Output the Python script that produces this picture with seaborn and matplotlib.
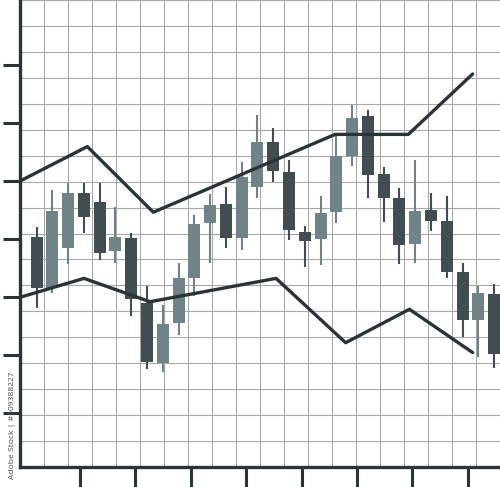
import numpy as np
import pandas as pd
import matplotlib
matplotlib.use('Agg')
from matplotlib import pyplot as plt
from matplotlib.ticker import FixedLocator
import seaborn as sns

# candles, one per session (values in grid units)
opens = [8.88, 6.90, 8.43, 10.57, 10.23, 8.34, 8.84, 6.31, 4.00, 5.56,
         7.30, 9.39, 10.13, 8.82, 10.78, 12.54, 11.38, 9.05, 8.78, 9.84,
         12.00, 13.53, 11.28, 10.36, 8.58, 9.91, 9.48, 7.50, 5.67, 6.67]
closes = [6.89, 9.88, 10.55, 9.65, 8.26, 8.88, 6.46, 4.06, 5.51, 7.27,
          9.37, 10.10, 8.82, 11.17, 12.54, 11.41, 9.14, 8.72, 9.80, 11.99,
          13.46, 11.26, 10.36, 8.56, 9.87, 9.49, 7.50, 5.67, 6.70, 4.36]
highs = [9.26, 10.68, 10.96, 10.96, 10.96, 10.03, 9.01, 6.98, 6.24, 7.85,
         9.71, 10.52, 10.80, 11.77, 13.57, 13.05, 11.83, 9.29, 10.46, 12.76,
         13.95, 13.76, 11.57, 10.74, 11.83, 10.55, 10.46, 7.85, 6.99, 7.04]
lows = [6.13, 6.71, 7.82, 9.03, 7.98, 7.85, 5.82, 3.77, 3.67, 5.09,
        6.59, 7.85, 8.43, 8.36, 10.36, 11.00, 8.75, 7.70, 7.79, 9.39,
        11.61, 10.36, 9.43, 7.81, 7.85, 9.11, 7.30, 5.00, 4.23, 3.80]

# the two envelope lines
upper_x = [-1.05, 3.22, 7.40, 18.92, 23.56, 27.64]
upper_y = [11.02, 12.35, 9.82, 12.82, 12.82, 15.15]
lower_x = [-1.05, 3.01, 7.19, 15.18, 19.59, 23.63, 27.64]
lower_y = [6.54, 7.27, 6.37, 7.27, 4.79, 6.08, 4.41]

DARK = '#414d50'
LIGHT = '#708387'
INK = '#2a3437'

candles = pd.DataFrame({'open': opens, 'close': closes, 'high': highs, 'low': lows})
candles['x'] = np.arange(len(candles))
candles['bottom'] = candles[['open', 'close']].min(axis=1)
candles['height'] = (candles['close'] - candles['open']).abs()
candles['color'] = np.where(candles['close'] > candles['open'], LIGHT, DARK)

lines = pd.concat([
    pd.DataFrame({'x': upper_x, 'y': upper_y, 'band': 'upper'}),
    pd.DataFrame({'x': lower_x, 'y': lower_y, 'band': 'lower'}),
])

sns.set_style('white')
fig = plt.figure(figsize=(5, 4.87), dpi=100)
ax = fig.add_axes([0.04, 20 / 487, 0.96, 467 / 487])

x_min, x_max = -1.046, 29.37
ax.set_xlim(x_min, x_max)
ax.set_ylim(0, 18)

# grid: 24px columns, 26px rows
ax.xaxis.set_minor_locator(FixedLocator(np.arange(x_min, x_max + 0.1, 1.521)))
ax.yaxis.set_minor_locator(FixedLocator(np.arange(0, 18.1, 1)))
ax.grid(which='minor', color='#a8a8a8', linewidth=0.8, zorder=0)
ax.grid(which='major', visible=False)

ax.vlines(candles['x'], candles['low'], candles['high'],
          colors=candles['color'], linewidth=1.5, zorder=2)
ax.bar(candles['x'], candles['height'], bottom=candles['bottom'], width=0.76,
       color=candles['color'], linewidth=0, zorder=3)

sns.lineplot(data=lines, x='x', y='y', units='band', estimator=None, sort=False,
             color=INK, linewidth=2.4, legend=False, ax=ax, zorder=4)

ax.set_xticks(2.757 + 3.51 * np.arange(8))
ax.set_yticks(2.08 + 2.236 * np.arange(7))
ax.set_xticklabels([])
ax.set_yticklabels([])
ax.tick_params(axis='x', which='major', direction='out', length=14.4, width=2.2,
               color=INK, bottom=True)
ax.tick_params(axis='y', which='major', direction='out', length=12.2, width=2.2,
               color=INK, left=True)
ax.tick_params(which='minor', length=0)
ax.set_xlabel('')
ax.set_ylabel('')

sns.despine(ax=ax, top=True, right=True)
for side in ['left', 'bottom']:
    ax.spines[side].set_color(INK)
    ax.spines[side].set_linewidth(2.4)
    ax.spines[side].set_zorder(5)

fig.text(0.026, 0.126, 'Adobe Stock | #509388227', rotation=90, fontsize=6.1,
         color='#4a4a4a', ha='center', va='center', family='Open Sans')

fig.savefig('out.png', dpi=100)
